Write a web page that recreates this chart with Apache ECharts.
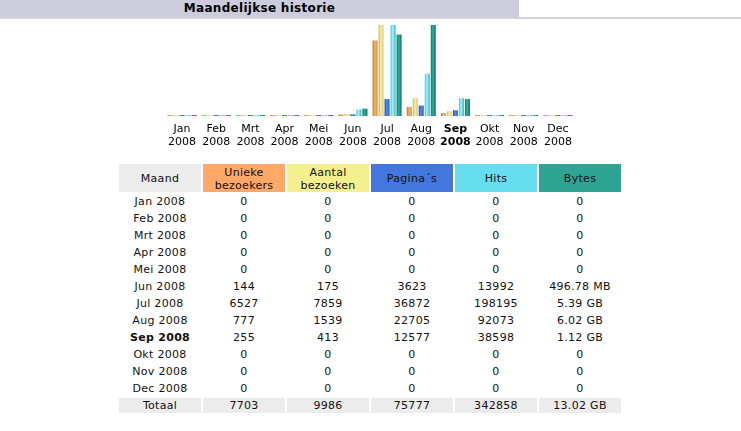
<!DOCTYPE html>
<html>
<head>
<meta charset="utf-8">
<script src="https://cdn.jsdelivr.net/npm/echarts@6/dist/echarts.min.js"></script>
<style>
  body { margin: 0; background: #fff; font-family: "DejaVu Sans", Verdana, sans-serif; }
  #head { position: absolute; left: 0; top: 0; width: 519px; height: 17px; background: #CCCCDD;
          font-weight: bold; font-size: 12px; letter-spacing: 0.3px; line-height: 17px; text-align: center; color: #000; }
  #headline { position: absolute; left: 0; top: 17px; width: 741px; height: 2px; background: #D2D2DA; }
  #chart { position: absolute; left: 0; top: 0; width: 741px; height: 160px; }
  #tbl { position: absolute; left: 117px; top: 162px; border-spacing: 2px; font-size: 11px; letter-spacing: 0.3px; color: #111; }
  #tbl td, #tbl th { width: 82px; padding: 1px 0 0 0; text-align: center; font-weight: normal; height: 14px; line-height: 14px; }
  #tbl th { height: 27px; line-height: 13px; }
  #tbl .tot td { background: #ECECEC; }
</style>
</head>
<body>
<div id="head">Maandelijkse historie</div>
<div id="headline"></div>
<div id="chart"></div>
<table id="tbl"><thead></thead><tbody></tbody></table>
<script>
  // maanden 2008
  var months = ['Jan', 'Feb', 'Mrt', 'Apr', 'Mei', 'Jun', 'Jul', 'Aug', 'Sep', 'Okt', 'Nov', 'Dec'];
  var year = '2008';
  var currentMonth = 'Sep';
  var uniq = [0, 0, 0, 0, 0, 144, 6527, 777, 255, 0, 0, 0];
  var visits = [0, 0, 0, 0, 0, 175, 7859, 1539, 413, 0, 0, 0];
  var pages = [0, 0, 0, 0, 0, 3623, 36872, 22705, 12577, 0, 0, 0];
  var hits = [0, 0, 0, 0, 0, 13992, 198195, 92073, 38598, 0, 0, 0];
  var bytesGB = [0, 0, 0, 0, 0, 0.485, 5.39, 6.02, 1.12, 0, 0, 0];
  var bytesLabels = ['0', '0', '0', '0', '0', '496.78 MB', '5.39 GB', '6.02 GB', '1.12 GB', '0', '0', '0'];
  var bytesTotal = '13.02 GB';

  var headers = [
    {text: 'Maand', bg: '#ECECEC'},
    {text: 'Unieke<br>bezoekers', bg: '#FFA868'},
    {text: 'Aantal<br>bezoeken', bg: '#F4F090'},
    {text: 'Pagina´s', bg: '#4477DD'},
    {text: 'Hits', bg: '#66DDEE'},
    {text: 'Bytes', bg: '#2EA495'}
  ];

  function grad(c1, c2, c3) {
    return new echarts.graphic.LinearGradient(0, 0, 1, 0, [
      {offset: 0, color: c1}, {offset: 0.45, color: c2}, {offset: 1, color: c3}
    ]);
  }

  var xData = months.map(function (m) {
    var item = {value: m + '\n' + year};
    if (m === currentMonth) item.textStyle = {fontWeight: 'bold'};
    return item;
  });

  function bar(name, data, axis, color) {
    return {
      name: name, type: 'bar', data: data, yAxisIndex: axis,
      barWidth: 5, barGap: '20%', barMinHeight: 1,
      itemStyle: {color: color}
    };
  }

  var myChart = echarts.init(document.getElementById('chart'));
  myChart.setOption({
    animation: false,
    grid: {left: 165, right: 166, top: 25, height: 91},
    xAxis: {
      type: 'category',
      data: xData,
      axisLine: {show: false},
      axisTick: {show: false},
      axisLabel: {fontFamily: 'DejaVu Sans', fontSize: 11, color: '#000', lineHeight: 13, margin: 7, interval: 0}
    },
    yAxis: [
      {type: 'value', min: 0, max: Math.max.apply(null, visits), show: false},
      {type: 'value', min: 0, max: Math.max.apply(null, hits), show: false},
      {type: 'value', min: 0, max: Math.max.apply(null, bytesGB), show: false}
    ],
    series: [
      bar('Unieke bezoekers', uniq, 0, grad('#B87428', '#F8B468', '#D89040')),
      bar('Aantal bezoeken', visits, 0, grad('#C4B458', '#F8F0A8', '#D8C870')),
      bar('Pagina´s', pages, 1, grad('#1C48A8', '#5C8CEC', '#2C5CC0')),
      bar('Hits', hits, 1, grad('#40C8D8', '#A8F4FC', '#30B0C4')),
      bar('Bytes', bytesGB, 2, grad('#0C7868', '#2CB4A0', '#0A6C5C'))
    ]
  });

  // tabel
  var thead = document.querySelector('#tbl thead');
  var tr = document.createElement('tr');
  headers.forEach(function (h) {
    var th = document.createElement('th');
    th.innerHTML = h.text;
    th.style.background = h.bg;
    tr.appendChild(th);
  });
  thead.appendChild(tr);

  function sum(a) { return a.reduce(function (s, v) { return s + v; }, 0); }
  var tbody = document.querySelector('#tbl tbody');
  months.forEach(function (m, i) {
    var row = document.createElement('tr');
    var cells = [m + ' ' + year, uniq[i], visits[i], pages[i], hits[i], bytesLabels[i]];
    cells.forEach(function (c, j) {
      var td = document.createElement('td');
      td.textContent = c;
      if (j === 0 && m === currentMonth) td.style.fontWeight = 'bold';
      row.appendChild(td);
    });
    tbody.appendChild(row);
  });
  var tot = document.createElement('tr');
  tot.className = 'tot';
  ['Totaal', sum(uniq), sum(visits), sum(pages), sum(hits), bytesTotal].forEach(function (c) {
    var td = document.createElement('td');
    td.textContent = c;
    tot.appendChild(td);
  });
  tbody.appendChild(tot);
</script>
</body>
</html>
